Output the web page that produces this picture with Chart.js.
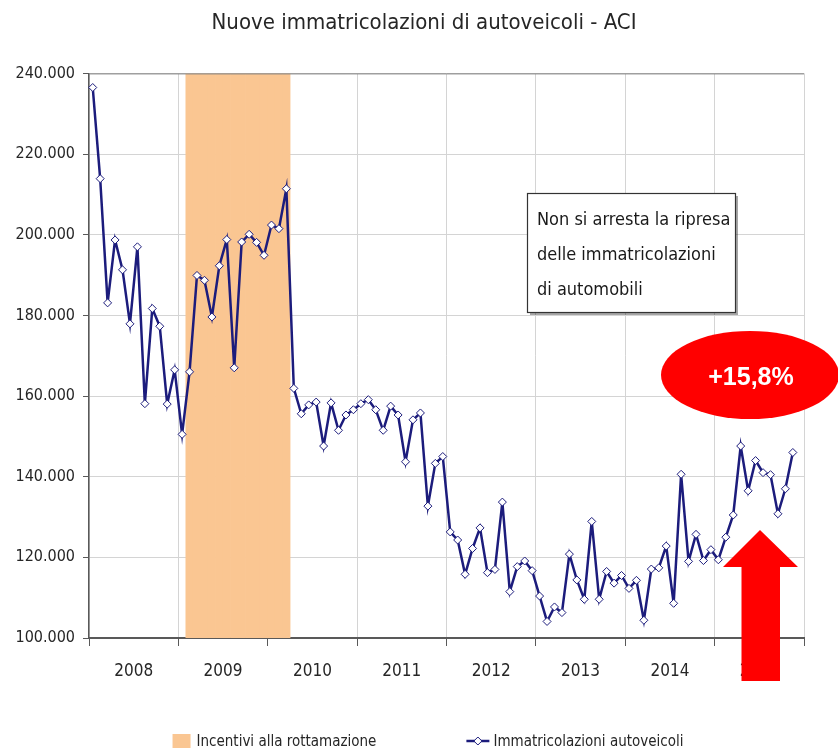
<!DOCTYPE html>
<html>
<head>
<meta charset="utf-8">
<script src="https://cdn.jsdelivr.net/npm/chart.js@4.4.1/dist/chart.umd.min.js"></script>
<style>
  html, body { margin: 0; padding: 0; background: #fff; }
  #wrap { width: 838px; height: 751px; }
</style>
</head>
<body>
<div id="wrap"><canvas id="immatricolazioni-chart"></canvas></div>
<script>
const years = ["2008", "2009", "2010", "2011", "2012", "2013", "2014", "2015"];
const monthNames = ["gen", "feb", "mar", "apr", "mag", "giu", "lug", "ago", "set", "ott", "nov", "dic"];
const monthLabels = years.flatMap(y => monthNames.map(m => m + " " + y));

// monthly registrations, jan 2008 - nov 2015 (dec 2015 missing)
const registrations = [
  236500, 213900, 183100, 198700, 191300, 177900, 197000, 158100, 181700, 177300, 158000, 166500,
  150500, 166000, 189900, 188700, 179600, 192300, 198800, 167000, 198200, 200100, 198100, 194900,
  202400, 201500, 211400, 161900, 155600, 157800, 158500, 147600, 158300, 151500, 155300, 156600,
  158100, 159100, 156600, 151500, 157500, 155300, 143700, 154100, 155800, 132700, 143300, 145000,
  126300, 124300, 115800, 122200, 127300, 116200, 117000, 133700, 111500, 117700, 119100, 116700,
  110400, 104100, 107700, 106300, 120800, 114400, 109600, 128900, 109600, 116500, 113600, 115500,
  112300, 114300, 104400, 117100, 117400, 122800, 108600, 140600, 119000, 125700, 119200, 121900,
  119400, 125000, 130500, 147600, 136500, 144000, 141000, 140500, 130800, 137000, 146000, null
];

const incentiveFrom = "feb 2009";
const incentiveTo = "mar 2010";
const yTickValues = [100000, 120000, 140000, 160000, 180000, 200000, 220000, 240000];

const noteLines = ["Non si arresta la ripresa", "delle immatricolazioni", "di automobili"];
const growthLabel = "+15,8%";

const narrow = "'Liberation Sans Narrow', 'DejaVu Sans Condensed', 'Arial Narrow', sans-serif";
const lineColor = "#1c1c7c";
const bandColor = "#fac692";
const textColor = "#262626";

const yMin = yTickValues[0];
const yMax = yTickValues[yTickValues.length - 1];
const fromIdx = monthLabels.indexOf(incentiveFrom);
const toIdx = monthLabels.indexOf(incentiveTo);
const bandData = monthLabels.map((m, i) => (i >= fromIdx && i <= toIdx ? yMax : null));

function formatThousands(v) {
  return String(v).replace(/\B(?=(\d{3})+(?!\d))/g, ".");
}

const overlayPlugin = {
  id: "overlay",
  afterDatasetsDraw(chart) {
    const { ctx, chartArea } = chart;
    ctx.save();
    ctx.strokeStyle = "#7f7f7f";
    ctx.lineWidth = 1;
    ctx.beginPath();
    ctx.moveTo(chartArea.left, chartArea.top + 0.5);
    ctx.lineTo(chartArea.right, chartArea.top + 0.5);
    ctx.stroke();
    ctx.restore();
  },
  afterDraw(chart) {
    const { ctx } = chart;
    ctx.save();

    // note box
    const bx = 527, by = 193, bw = 208, bh = 119;
    ctx.fillStyle = "rgba(0,0,0,0.35)";
    ctx.fillRect(bx + 3, by + 3, bw, bh);
    ctx.fillStyle = "#fff";
    ctx.fillRect(bx, by, bw, bh);
    ctx.strokeStyle = "#333";
    ctx.lineWidth = 1.2;
    ctx.strokeRect(bx + 0.5, by + 0.5, bw, bh);
    ctx.fillStyle = "#1a1a1a";
    ctx.font = "18px " + narrow;
    ctx.textAlign = "left";
    ctx.textBaseline = "alphabetic";
    noteLines.forEach((t, i) => ctx.fillText(t, bx + 10, by + 32 + i * 35));

    // red ellipse
    ctx.fillStyle = "#ff0000";
    ctx.beginPath();
    ctx.ellipse(750, 375, 89, 44, 0, 0, Math.PI * 2);
    ctx.fill();
    ctx.fillStyle = "#fff";
    ctx.font = "bold 25px 'Liberation Sans', Arial, sans-serif";
    ctx.textAlign = "center";
    ctx.textBaseline = "middle";
    ctx.fillText(growthLabel, 751, 378);

    // red arrow
    ctx.fillStyle = "#ff0000";
    ctx.beginPath();
    ctx.moveTo(760, 530);
    ctx.lineTo(798, 567);
    ctx.lineTo(780, 567);
    ctx.lineTo(780, 681);
    ctx.lineTo(741.5, 681);
    ctx.lineTo(741.5, 567);
    ctx.lineTo(723, 567);
    ctx.closePath();
    ctx.fill();

    // legend
    const ly = 741;
    ctx.font = "15px " + narrow;
    ctx.textBaseline = "middle";
    ctx.textAlign = "left";
    const ds = chart.data.datasets;
    const w1 = 24 + ctx.measureText(ds[0].label).width;
    const w2 = 27 + ctx.measureText(ds[1].label).width;
    const gap = 90;
    let x = chart.width / 2 + 9 - (w1 + gap + w2) / 2;
    ctx.fillStyle = ds[0].backgroundColor;
    ctx.fillRect(x, ly - 7, 18, 14);
    ctx.fillStyle = textColor;
    ctx.fillText(ds[0].label, x + 24, ly + 1);
    x += w1 + gap;
    ctx.strokeStyle = ds[1].borderColor;
    ctx.lineWidth = 2.5;
    ctx.beginPath();
    ctx.moveTo(x, ly);
    ctx.lineTo(x + 23, ly);
    ctx.stroke();
    ctx.fillStyle = "#fff";
    ctx.lineWidth = 1;
    ctx.beginPath();
    ctx.moveTo(x + 11.5, ly - 4);
    ctx.lineTo(x + 15.5, ly);
    ctx.lineTo(x + 11.5, ly + 4);
    ctx.lineTo(x + 7.5, ly);
    ctx.closePath();
    ctx.fill();
    ctx.stroke();
    ctx.fillStyle = textColor;
    ctx.fillText(ds[1].label, x + 27, ly + 1);

    ctx.restore();
  }
};

const canvas = document.getElementById("immatricolazioni-chart");

new Chart(canvas, {
  type: "line",
  data: {
    labels: monthLabels,
    datasets: [
      {
        type: "bar",
        label: "Incentivi alla rottamazione",
        data: bandData,
        backgroundColor: bandColor,
        borderWidth: 0,
        barPercentage: 1,
        categoryPercentage: 1,
        order: 2
      },
      {
        type: "line",
        label: "Immatricolazioni autoveicoli",
        data: registrations,
        borderColor: lineColor,
        borderWidth: 2.5,
        tension: 0,
        pointStyle: "rectRot",
        pointRadius: 4,
        pointBackgroundColor: "#fff",
        pointBorderColor: lineColor,
        pointBorderWidth: 1,
        order: 1
      }
    ]
  },
  options: {
    responsive: true,
    maintainAspectRatio: false,
    animation: false,
    layout: { padding: { left: 10, right: 0, top: 0, bottom: 62 } },
    plugins: {
      legend: { display: false },
      tooltip: { enabled: false },
      title: {
        display: true,
        text: "Nuove immatricolazioni di autoveicoli - ACI",
        color: textColor,
        font: { family: narrow, size: 22, weight: "normal", lineHeight: 1.2 },
        padding: { top: 10, bottom: 37 }
      }
    },
    scales: {
      x: { type: "category", display: false, offset: true },
      years: {
        type: "category",
        labels: years,
        position: "bottom",
        offset: true,
        grid: { offset: true, color: "#d4d4d4", tickColor: "#595959", tickLength: 8 },
        border: { color: "#595959", width: 2 },
        ticks: { color: textColor, font: { family: narrow, size: 17 }, padding: 15, autoSkip: false, maxRotation: 0 },
        afterFit: s => { s.height = 51; }
      },
      y: {
        min: yMin,
        max: yMax,
        afterBuildTicks: s => { s.ticks = yTickValues.map(v => ({ value: v })); },
        ticks: { color: textColor, font: { family: narrow, size: 16 }, padding: 8, callback: v => formatThousands(v) },
        grid: { color: "#d4d4d4", tickColor: "#595959", tickLength: 6 },
        border: { color: "#595959", width: 1.5 },
        afterFit: s => { s.width = 79; }
      },
      spacer: {
        type: "linear",
        position: "right",
        display: true,
        grid: { drawOnChartArea: false, drawTicks: false },
        border: { display: false },
        ticks: { display: false },
        afterFit: s => { s.width = 34; }
      }
    }
  },
  plugins: [overlayPlugin]
});
</script>
</body>
</html>
